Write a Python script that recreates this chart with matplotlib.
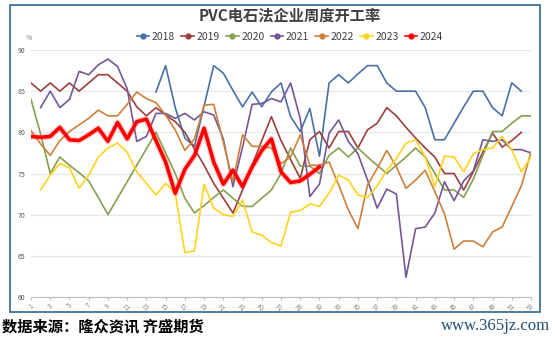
import numpy as np
import matplotlib
matplotlib.use("Agg")
import matplotlib.pyplot as plt
import matplotlib.patheffects as pe
from matplotlib.lines import Line2D
from matplotlib.patches import Rectangle

plt.rcParams['font.family'] = ['Noto Sans CJK SC', 'DejaVu Sans']

nan = np.nan

# week axis (the source labels position 31 as "30")
weeks = np.arange(1, 54)
week_labels = [str(i) for i in range(1, 30)] + ['30', '30'] + [str(i) for i in range(32, 54)]

y2018 = [nan] * 13 + [84.9, 88.1, 83.0, 79.3, 78.3, 83.2, 88.1, 87.2, 85.1, 83.1,
                      84.9, 83.1, 84.9, 86.0, 81.9, 80.1, 82.9, 77.1, 86.0, 87.0,
                      86.0, 87.1, 88.1, 88.1, 86.0, 85.0, 85.0, 85.0, 83.0, 79.1,
                      79.1, 81.1, 83.1, 85.0, 85.0, 83.0, 82.0, 86.0, 85.0, nan]
y2019 = [86.0, 85.0, 86.0, 85.0, 86.0, 85.0, 86.0, 87.0, 87.0, 86.0,
         85.0, 83.1, 82.0, 83.0, 82.1, 81.3, 80.0, 78.0, 76.0, 73.8,
         72.0, 70.2, 73.0, 76.0, 79.0, 81.9, 79.0, 76.7, 74.4, 79.1,
         80.1, 78.1, 80.1, 80.1, 78.1, 80.3, 81.1, 83.0, 82.0, 80.6,
         79.3, 78.1, 77.0, 75.0, 75.0, 73.0, 75.2, 77.6, 79.9, 78.2,
         79.0, 80.0, nan]
y2020 = [84.0, 79.8, 75.0, 77.0, 76.0, 75.1, 74.1, 72.1, 70.0, 72.0,
         74.0, 76.0, 78.0, 80.0, 77.5, 75.0, 72.0, 70.2, 71.1, 72.1,
         73.0, 72.0, 71.0, 71.0, 72.0, 73.0, 75.0, 78.1, 75.9, 75.9,
         75.0, 77.2, 78.1, 77.0, 78.1, 77.0, 76.0, 75.0, 76.0, 77.0,
         78.1, 77.0, 75.0, 73.0, 73.0, 72.1, 74.3, 77.2, 80.1, 80.1,
         81.1, 82.0, 82.0]
y2021 = [nan, 83.0, 85.0, 83.0, 84.0, 87.4, 87.0, 88.2, 88.9, 88.0,
         85.3, 78.9, 79.5, 82.3, 82.3, 81.7, 82.3, 81.5, 82.5, 82.1,
         79.2, 73.4, 78.2, 83.4, 83.5, 84.1, 83.7, 86.0, 81.7, 72.2,
         73.7, 79.9, 81.5, 78.9, 77.4, 74.2, 70.8, 73.1, 72.5, 62.4,
         68.3, 68.5, 70.2, 74.0, 71.7, 74.1, 75.3, 79.1, 78.9, 79.1,
         77.9, 77.9, 77.5]
y2022 = [80.2, 78.6, 77.2, 79.0, 80.1, 80.9, 81.7, 82.7, 82.0, 82.0,
         83.4, 84.9, 84.1, 83.6, 82.1, 80.3, 77.8, 79.2, 83.3, 83.4,
         78.8, 74.0, 79.7, 78.3, 78.3, 78.1, 76.2, 77.0, 79.7, 76.0,
         76.0, 76.4, 73.6, 70.6, 68.3, 73.6, 75.6, 77.8, 75.8, 73.2,
         74.2, 75.4, 72.8, 70.1, 65.8, 66.8, 66.8, 66.1, 67.9, 68.5,
         71.0, 73.5, 77.6]
y2023 = [nan, 73.0, 74.8, 76.2, 75.7, 73.2, 74.8, 77.0, 78.1, 78.7,
         77.6, 75.2, 73.8, 72.4, 73.8, 72.6, 65.4, 65.6, 73.7, 70.8,
         70.0, 69.8, 71.8, 67.9, 67.5, 66.6, 66.2, 70.3, 70.5, 71.3,
         71.0, 72.6, 74.8, 74.2, 72.4, 72.1, 73.5, 75.4, 76.8, 78.7,
         79.1, 77.0, 73.4, 77.1, 77.0, 75.2, 77.4, 77.9, 78.1, 79.5,
         77.9, 75.2, 77.0]
y2024 = [79.5, 79.4, 79.5, 80.6, 79.1, 79.0, 79.7, 80.5, 78.9, 81.2,
         79.2, 81.3, 81.6, 79.0, 76.4, 72.6, 75.5, 77.2, 80.5, 76.4,
         73.7, 75.4, 73.4, 75.8, 77.8, 79.2, 75.2, 73.9, 74.1, 74.9,
         75.8]

series = [
    ('2018', y2018, '#4a70a5'),
    ('2019', y2019, '#9c3f3c'),
    ('2020', y2020, '#86a050'),
    ('2021', y2021, '#745796'),
    ('2022', y2022, '#cd803c'),
    ('2023', y2023, '#ffd21f'),
    ('2024', y2024, '#ff0000'),
]

fig = plt.figure(figsize=(5.55, 3.43), dpi=100)
ax = fig.add_axes([31 / 555, 1 - 297 / 343, 500 / 555, 247 / 343])

handles = []
for name, vals, col in series:
    vals = np.array(vals, dtype=float)
    x = weeks[:len(vals)]
    if name == '2024':
        ax.plot(x, vals, color=col, lw=2.6, zorder=5,
                path_effects=[pe.withStroke(linewidth=4.5, foreground=(1, 0.3, 0.3, 0.25))])
    else:
        ax.plot(x, vals, color=col, lw=1.2, zorder=3)
    handles.append(Line2D([], [], color=col, lw=1.2, marker='o', markersize=3.5))

ax.set_xlim(1, 53)
ax.set_ylim(60, 90)
ax.set_yticks(range(60, 91, 5))
ax.grid(axis='y', color='#e6e6ef', lw=0.9)
ax.set_axisbelow(True)
odd = weeks[::2]
ax.set_xticks(odd)
ax.set_xticklabels([week_labels[i - 1] for i in odd], rotation=45, fontsize=4.5, color='#7f7f7f')
ax.tick_params(axis='x', length=2.5, color='#bfbfbf', pad=1)
ax.tick_params(axis='y', length=0, labelsize=5, labelcolor='#595959', pad=4)
for s in ['top', 'right', 'left']:
    ax.spines[s].set_visible(False)
ax.spines['bottom'].set_color('#bfbfbf')

fig.text(29 / 555, 1 - 38 / 343, '%', fontsize=5, color='#7f7f7f', ha='center', va='center')
fig.text(290 / 555, 1 - 16 / 343, 'PVC电石法企业周度开工率', fontsize=11, fontweight='bold',
         color='#404040', ha='center', va='center')
fig.legend(handles, [s[0] for s in series], loc='center', bbox_to_anchor=(290 / 555, 1 - 37 / 343),
           ncol=7, frameon=False, fontsize=7.5, handlelength=1.2, handletextpad=0.25,
           columnspacing=0.6, labelcolor='#404040')

fig.patches.append(Rectangle((10 / 555, 1 - 312 / 343), 530 / 555, 307 / 343,
                             transform=fig.transFigure, fill=False,
                             edgecolor='#41719c', lw=1.3))

fig.text(2 / 555, 1 - 326 / 343, '数据来源：隆众资讯 齐盛期货', fontsize=11, fontweight='bold',
         color='black', ha='left', va='center')
fig.text(550 / 555, 1 - 326 / 343, 'www.365jz.com', fontsize=12, family='Liberation Serif',
         color='#1f4e79', ha='right', va='center')

fig.savefig('out.png', dpi=100)
